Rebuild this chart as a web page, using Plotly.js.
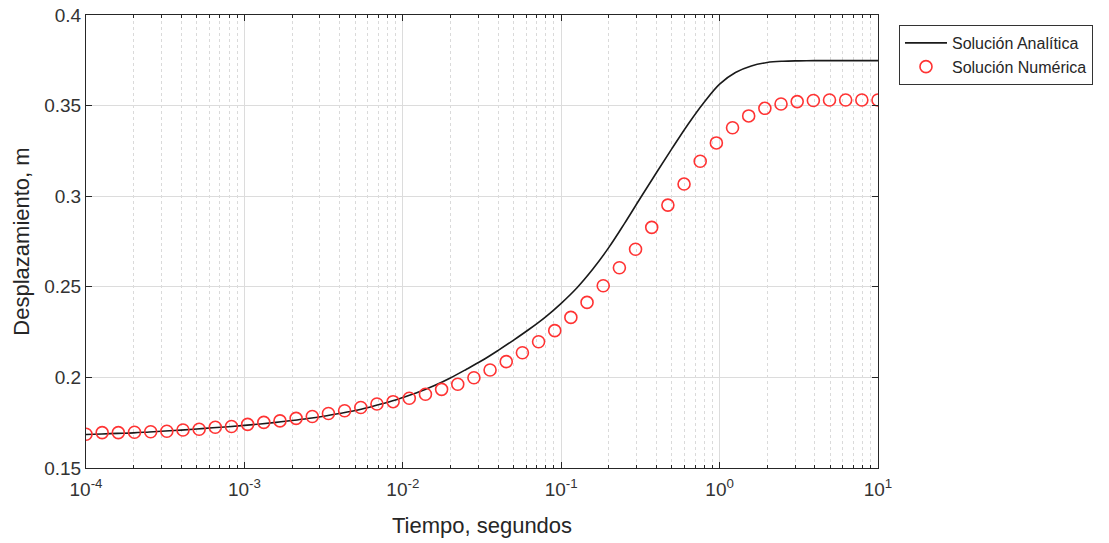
<!DOCTYPE html>
<html>
<head>
<meta charset="utf-8">
<script src="https://cdn.plot.ly/plotly-3.0.1.min.js"></script>
<style>
  html, body { margin: 0; padding: 0; background: #ffffff; }
  #chart { width: 1109px; height: 543px; }
</style>
</head>
<body>
<div id="chart"></div>
<script>
// Time grid of the analytic solution (s), 0.1-decade steps from 1e-4 to 10
const tAnalitica = [
  1.000e-4, 1.259e-4, 1.585e-4, 1.995e-4, 2.512e-4, 3.162e-4, 3.981e-4, 5.012e-4, 6.310e-4, 7.943e-4,
  1.000e-3, 1.259e-3, 1.585e-3, 1.995e-3, 2.512e-3, 3.162e-3, 3.981e-3, 5.012e-3, 6.310e-3, 7.943e-3,
  1.000e-2, 1.259e-2, 1.585e-2, 1.995e-2, 2.512e-2, 3.162e-2, 3.981e-2, 5.012e-2, 6.310e-2, 7.943e-2,
  0.1000, 0.1259, 0.1585, 0.1995, 0.2512, 0.3162, 0.3981, 0.5012, 0.6310, 0.7943,
  1.000, 1.259, 1.585, 1.995, 2.512, 3.162, 3.981, 5.012, 6.310, 7.943,
  10.00
];
// Analytic displacement (m)
const uAnalitica = [
  0.1685, 0.1688, 0.1691, 0.1694, 0.1699, 0.1704, 0.1709, 0.1715, 0.1722, 0.1728,
  0.1735, 0.1743, 0.1752, 0.1762, 0.1773, 0.1786, 0.1801, 0.1817, 0.1838, 0.1861,
  0.1889, 0.1919, 0.1955, 0.1997, 0.2044, 0.2093, 0.2148, 0.2206, 0.2267, 0.2333,
  0.2409, 0.2495, 0.2598, 0.2716, 0.2850, 0.2990, 0.3128, 0.3264, 0.3396, 0.3516,
  0.3619, 0.3683, 0.3719, 0.3738, 0.3745, 0.3747, 0.3748, 0.3748, 0.3748, 0.3748,
  0.3748
];
// Time steps of the numerical solution (s)
const tNumerica = [
  1.000e-4, 1.265e-4, 1.600e-4, 2.024e-4, 2.560e-4, 3.238e-4, 4.095e-4, 5.180e-4, 6.551e-4, 8.287e-4,
  1.048e-3, 1.326e-3, 1.677e-3, 2.121e-3, 2.683e-3, 3.393e-3, 4.292e-3, 5.429e-3, 6.867e-3, 8.686e-3,
  1.099e-2, 1.390e-2, 1.758e-2, 2.223e-2, 2.812e-2, 3.556e-2, 4.499e-2, 5.690e-2, 7.197e-2, 9.104e-2,
  0.1151, 0.1456, 0.1842, 0.2330, 0.2947, 0.3728, 0.4715, 0.5964, 0.7543, 0.9541,
  1.207, 1.526, 1.931, 2.442, 3.089, 3.907, 4.942, 6.251, 7.906, 10.00
];
// Numerical displacement (m)
const uNumerica = [
  0.1686, 0.1695, 0.1695, 0.1697, 0.1700, 0.1703, 0.1710, 0.1714, 0.1725, 0.1729,
  0.1741, 0.1752, 0.1760, 0.1774, 0.1784, 0.1801, 0.1816, 0.1834, 0.1853, 0.1866,
  0.1885, 0.1907, 0.1934, 0.1962, 0.1998, 0.2041, 0.2087, 0.2136, 0.2197, 0.2258,
  0.2331, 0.2414, 0.2506, 0.2605, 0.2707, 0.2828, 0.2951, 0.3067, 0.3193, 0.3294,
  0.3378, 0.3443, 0.3485, 0.3509, 0.3522, 0.3528, 0.3531, 0.3531, 0.3531, 0.3531
];

const nombres = ['Solución Analítica', 'Solución Numérica'];
const yTicks = [0.15, 0.2, 0.25, 0.3, 0.35, 0.4];
const xTicks = [1e-4, 1e-3, 1e-2, 1e-1, 1, 10];
const xTickText = ['10<sup>-4</sup>', '10<sup>-3</sup>', '10<sup>-2</sup>', '10<sup>-1</sup>', '10<sup>0</sup>', '10<sup>1</sup>'];

const FONT = 'Liberation Sans, Arial, Helvetica, sans-serif';
const INK = '#262626';

const traces = [
  {
    x: tAnalitica, y: uAnalitica, name: nombres[0],
    type: 'scatter', mode: 'lines',
    line: { color: '#1a1a1a', width: 1.6, shape: 'spline', smoothing: 1 }
  },
  {
    x: tNumerica, y: uNumerica, name: nombres[1],
    type: 'scatter', mode: 'markers',
    marker: { symbol: 'circle-open', size: 12, color: '#ff3333', line: { width: 1.6, color: '#ff3333' } }
  }
];

const layout = {
  width: 1109, height: 543,
  margin: { l: 86, r: 231, t: 15, b: 75 },
  paper_bgcolor: '#ffffff', plot_bgcolor: '#ffffff',
  font: { family: FONT, color: INK },
  showlegend: true,
  legend: {
    x: 1.0265, xanchor: 'left', y: 0.978, yanchor: 'top',
    bgcolor: '#ffffff', bordercolor: '#333333', borderwidth: 1,
    font: { family: FONT, size: 16, color: INK },
    itemwidth: 42, tracegroupgap: 0
  },
  xaxis: {
    type: 'log', range: [-4, 1],
    tickvals: xTicks, ticktext: xTickText,
    showline: true, linecolor: INK, linewidth: 1, mirror: 'allticks',
    ticks: 'inside', ticklen: 6, tickcolor: INK, tickwidth: 1,
    ticklabelstandoff: 4,
    showgrid: true, gridcolor: '#dcdcdc', gridwidth: 1,
    minor: { dtick: 'D1', ticks: 'inside', ticklen: 3, tickcolor: INK,
             showgrid: true, gridcolor: '#dadada', griddash: 'dot', gridwidth: 1 },
    zeroline: false, automargin: false,
    tickfont: { family: FONT, size: 19, color: '#333333' },
    title: { text: 'Tiempo, segundos', font: { family: FONT, size: 22, color: INK }, standoff: 18 }
  },
  yaxis: {
    range: [0.15, 0.4], tickvals: yTicks, ticktext: yTicks.map(String),
    showline: true, linecolor: INK, linewidth: 1, mirror: 'allticks',
    ticks: 'inside', ticklen: 6, tickcolor: INK, tickwidth: 1,
    showgrid: true, gridcolor: '#dcdcdc', gridwidth: 1,
    zeroline: false, automargin: false,
    tickfont: { family: FONT, size: 19, color: '#333333' },
    title: { text: 'Desplazamiento, m', font: { family: FONT, size: 22, color: INK }, standoff: 8 }
  }
};

Plotly.newPlot('chart', traces, layout, { displayModeBar: false, staticPlot: true });
</script>
</body>
</html>
